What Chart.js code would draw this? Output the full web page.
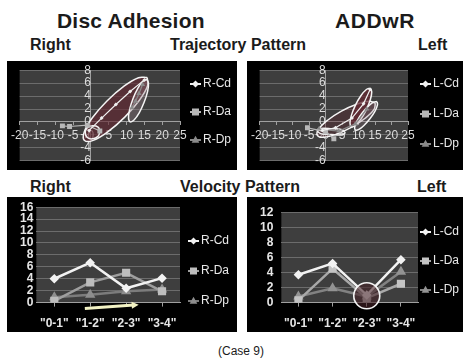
<!DOCTYPE html>
<html>
<head>
<meta charset="utf-8">
<title>Disc Adhesion ADDwR (Case 9)</title>
<script src="https://cdn.jsdelivr.net/npm/chart.js@4.4.1/dist/chart.umd.min.js"></script>
<style>
  body { margin: 0; background: #fff; }
  #page { position: relative; width: 463px; height: 361px; overflow: hidden; font-family: "Liberation Sans", Arial, sans-serif; }
  .lbl { position: absolute; white-space: nowrap; line-height: 1; font-weight: bold; color: #1b1b1b; }
  .panel { position: absolute; background: #000; }
  .panel canvas { display: block; }
</style>
</head>
<body>
<div id="page">
  <div class="lbl" style="left:57px;top:10px;font-size:21px;letter-spacing:0.2px">Disc Adhesion</div>
  <div class="lbl" style="left:335px;top:10px;font-size:21px;letter-spacing:0.6px">ADDwR</div>
  <div class="lbl" style="left:30px;top:37px;font-size:16px">Right</div>
  <div class="lbl" style="left:170px;top:37px;font-size:16px">Trajectory Pattern</div>
  <div class="lbl" style="left:418px;top:37px;font-size:16px">Left</div>
  <div class="panel" style="left:7px;top:61px;width:230px;height:109px"><canvas id="trajR" width="230" height="109"></canvas></div>
  <div class="panel" style="left:247px;top:61px;width:216px;height:109px"><canvas id="trajL" width="216" height="109"></canvas></div>
  <div class="lbl" style="left:30px;top:179px;font-size:16px">Right</div>
  <div class="lbl" style="left:180px;top:179px;font-size:16px">Velocity Pattern</div>
  <div class="lbl" style="left:417px;top:179px;font-size:16px">Left</div>
  <div class="panel" style="left:7px;top:197px;width:230px;height:135px"><canvas id="velR" width="230" height="135"></canvas></div>
  <div class="panel" style="left:247px;top:197px;width:216px;height:135px"><canvas id="velL" width="216" height="135"></canvas></div>
  <div class="lbl" style="left:218px;top:345px;font-size:12px;font-weight:normal">(Case 9)</div>
</div>
<script>
// trajectory pattern, right side (x, y pairs)
const trajRCdX = [-0.5, 3, 7, 11, 15];
const trajRCdY = [-1.3, 0.6, 2.7, 4.7, 6.5];
const trajRDaX = [-8, -6, -1, 2.5];
const trajRDaY = [-0.6, -0.7, -0.5, -1.4];
const trajRDpX = [11.5, 12.5, 13.5, 14.5];
const trajRDpY = [2.2, 3.2, 4.4, 5.8];
// outlined loops drawn round the right trajectories
const loopR1X = [15.8, 15.9, 13.6, 9.5, 4.8, 0.65, -1.8, -1.9, 0.4, 4.5, 9.2, 13.35, 15.8];
const loopR1Y = [6.86, 5.58, 3.35, 0.75, -1.5, -2.84, -2.86, -1.58, 0.65, 3.25, 5.5, 6.84, 6.86];
const loopR2X = [15.7, 16.15, 15.9, 14.9, 13.55, 12.1, 11, 10.55, 10.85, 11.8, 13.15, 14.6, 15.7];
const loopR2Y = [6.6, 6.0, 4.7, 3.0, 1.4, 0.3, 0.02, 0.6, 1.9, 3.6, 5.2, 6.3, 6.6];
const loopR3X = [2.6, 2, 0.5, -1, -1.6, -1, 0.5, 2, 2.6];
const loopR3Y = [-1.4, -0.8, -0.6, -0.9, -1.6, -2.4, -2.6, -2.2, -1.4];

// trajectory pattern, left side
const trajLCdX = [-1, 3, 8, 11.5, 13.5];
const trajLCdY = [-1.3, -0.9, 0.6, 2.8, 5];
const trajLDaX = [-5.5, 0, 2.5];
const trajLDaY = [-0.9, -1.5, -2.6];
const trajLDpX = [-2, 4, 9, 12.5];
const trajLDpY = [-1.1, -1.4, -0.3, 2];
const loopL1X = [15.1, 14.7, 12.0, 7.8, 3.2, -0.6, -2.5, -2.1, 0.6, 4.8, 9.4, 13.2, 15.1];
const loopL1Y = [2.9, 1.94, 0.57, -0.84, -1.9, -2.36, -2.06, -1.1, 0.27, 1.68, 2.75, 3.2, 2.9];
const loopL2X = [13.6, 14.0, 13.56, 12.34, 10.7, 9.0, 7.83, 7.4, 7.85, 9.06, 10.7, 12.37, 13.6];
const loopL2Y = [5.23, 4.65, 3.42, 1.87, 0.42, -0.54, -0.75, -0.17, 1.06, 2.61, 4.06, 5.02, 5.23];
const loopL3X = [15.6, 15.74, 15.0, 13.5, 11.7, 10.1, 9.0, 8.86, 9.6, 11.1, 12.9, 14.5, 15.6];
const loopL3Y = [3.15, 2.64, 1.68, 0.53, -0.5, -1.15, -1.23, -0.72, 0.23, 1.39, 2.42, 3.08, 3.15];
const loopL4X = [6, 5, 1.8, -1.4, -2.5, -1.5, 1.8, 5, 6];
const loopL4Y = [-1.7, -1.2, -1.05, -1.0, -1.25, -1.8, -1.95, -2.0, -1.7];

// velocity pattern
const velCats = ['"0-1"', '"1-2"', '"2-3"', '"3-4"'];
const velRCd = [4, 6.7, 2.4, 4.1];
const velRDa = [0.3, 3.4, 5, 1.9];
const velRDp = [0.9, 1.3, 1.9, 2.2];
const velLCd = [3.7, 5.2, 1, 5.7];
const velLDa = [0.3, 4.5, 0.6, 2.5];
const velLDp = [0.8, 1.9, 0.8, 4.1];

Chart.defaults.font.family = '"Liberation Sans", Arial, sans-serif';

function pts(xs, ys) {
  return xs.map((x, i) => ({x: x, y: ys[i]}));
}

function drawMarker(ctx, style, x, y, r, fill) {
  ctx.fillStyle = fill;
  ctx.beginPath();
  if (style === 'rect') {
    ctx.rect(x - r, y - r, 2 * r, 2 * r);
  } else if (style === 'triangle') {
    ctx.moveTo(x, y - r * 1.2);
    ctx.lineTo(x + r * 1.1, y + r * 0.8);
    ctx.lineTo(x - r * 1.1, y + r * 0.8);
    ctx.closePath();
  } else {
    ctx.moveTo(x, y - r);
    ctx.lineTo(x + r, y);
    ctx.lineTo(x, y + r);
    ctx.lineTo(x - r, y);
    ctx.closePath();
  }
  ctx.fill();
}

// grey plot area like the excel charts
const plotBg = {
  id: 'plotBg',
  beforeDraw(chart, args, opts) {
    const a = chart.chartArea;
    chart.ctx.save();
    chart.ctx.fillStyle = opts.color || '#3e3e3e';
    chart.ctx.fillRect(a.left, a.top, a.width, a.height);
    chart.ctx.restore();
  }
};

// legend on the right: short line with the marker on it
const sideLegend = {
  id: 'sideLegend',
  afterDraw(chart, args, opts) {
    const ctx = chart.ctx;
    ctx.save();
    ctx.font = '12px "Liberation Sans", Arial, sans-serif';
    ctx.textBaseline = 'middle';
    let k = 0;
    chart.data.datasets.forEach(ds => {
      if (ds.noLegend) return;
      const x = opts.x;
      const y = opts.y0 + opts.dy * k++;
      ctx.strokeStyle = ds.borderColor;
      ctx.lineWidth = 2;
      ctx.beginPath();
      ctx.moveTo(x, y);
      ctx.lineTo(x + 11, y);
      ctx.stroke();
      drawMarker(ctx, ds.pointStyle, x + 5.5, y, 3.5, ds.pointBackgroundColor || ds.backgroundColor);
      ctx.fillStyle = '#e8e8e8';
      ctx.fillText(ds.label, x + 13, y);
    });
    ctx.restore();
  }
};

// hand drawn marks: circle and arrow, placed in data units
const marks = {
  id: 'marks',
  afterDatasetsDraw(chart, args, o) {
    if (!o.circle) return;
    const ctx = chart.ctx;
    const px = chart.scales.x.getPixelForValue(o.circle.cx);
    const py = chart.scales.y.getPixelForValue(o.circle.cy);
    ctx.save();
    ctx.beginPath();
    ctx.arc(px, py, o.circle.r, 0, Math.PI * 2);
    ctx.fillStyle = 'rgba(70,35,40,0.6)';
    ctx.fill();
    ctx.strokeStyle = '#f4f4f4';
    ctx.lineWidth = 1.6;
    ctx.stroke();
    ctx.restore();
  },
  afterDraw(chart, args, o) {
    if (!o.arrow) return;
    const ctx = chart.ctx;
    const sx = chart.scales.x, sy = chart.scales.y;
    const x1 = sx.getPixelForValue(o.arrow.x1), y1 = sy.getPixelForValue(o.arrow.y1);
    const x2 = sx.getPixelForValue(o.arrow.x2), y2 = sy.getPixelForValue(o.arrow.y2);
    const ang = Math.atan2(y2 - y1, x2 - x1);
    ctx.save();
    ctx.strokeStyle = '#f2f2c4';
    ctx.fillStyle = '#f2f2c4';
    ctx.lineWidth = 3;
    ctx.beginPath();
    ctx.moveTo(x1, y1);
    ctx.lineTo(x2 - 5 * Math.cos(ang), y2 - 5 * Math.sin(ang));
    ctx.stroke();
    ctx.beginPath();
    ctx.moveTo(x2, y2);
    ctx.lineTo(x2 - 7 * Math.cos(ang) + 3.5 * Math.sin(ang), y2 - 7 * Math.sin(ang) - 3.5 * Math.cos(ang));
    ctx.lineTo(x2 - 7 * Math.cos(ang) - 3.5 * Math.sin(ang), y2 - 7 * Math.sin(ang) + 3.5 * Math.cos(ang));
    ctx.closePath();
    ctx.fill();
    ctx.restore();
  }
};

function trajSeries(label, xs, ys, color, style, r) {
  return {
    label: label, data: pts(xs, ys), showLine: true,
    borderColor: color, backgroundColor: color, borderWidth: 1.2,
    pointStyle: style, pointRadius: r, pointBorderWidth: 0
  };
}

function loop(xs, ys, fillColor) {
  return {
    data: pts(xs, ys), showLine: true, tension: 0.4,
    borderColor: '#f4f4f4', borderWidth: 1.5,
    backgroundColor: fillColor, fill: fillColor ? 'shape' : false,
    pointRadius: 0, noLegend: true
  };
}

function trajOptions(pad, legend) {
  return {
    responsive: false,
    animation: false,
    layout: { padding: pad },
    plugins: {
      legend: { display: false },
      tooltip: { enabled: false },
      plotBg: { color: '#3e3e3e' },
      sideLegend: legend
    },
    scales: {
      x: {
        type: 'linear', min: -20, max: 25, position: { y: 0 },
        ticks: { stepSize: 5, autoSkip: false, maxRotation: 0, color: '#dcdcdc', font: { size: 12 }, padding: 4 },
        grid: { drawOnChartArea: false, color: '#a0a0a0', tickLength: 3 },
        border: { color: '#a0a0a0' }
      },
      y: {
        type: 'linear', min: -6, max: 8, position: { x: 0 },
        ticks: { stepSize: 2, autoSkip: false, color: '#dcdcdc', font: { size: 12 }, padding: 2 },
        grid: { color: '#6c6c6c', drawTicks: false },
        border: { color: '#a0a0a0' }
      }
    }
  };
}

new Chart('trajR', {
  type: 'scatter',
  data: {
    datasets: [
      trajSeries('R-Cd', trajRCdX, trajRCdY, '#f0f0f0', 'rectRot', 2),
      trajSeries('R-Da', trajRDaX, trajRDaY, '#b8b8b8', 'rect', 3.5),
      trajSeries('R-Dp', trajRDpX, trajRDpY, '#8a8a8a', 'triangle', 3),
      loop(loopR3X, loopR3Y, null),
      loop(loopR2X, loopR2Y, 'rgba(150,125,135,0.35)'),
      loop(loopR1X, loopR1Y, 'rgba(100,40,50,0.65)')
    ]
  },
  options: trajOptions({ left: 12, top: 6, right: 57, bottom: 7 }, { x: 183, y0: 23, dy: 28 }),
  plugins: [plotBg, sideLegend]
});

new Chart('trajL', {
  type: 'scatter',
  data: {
    datasets: [
      trajSeries('L-Cd', trajLCdX, trajLCdY, '#f0f0f0', 'rectRot', 2),
      trajSeries('L-Da', trajLDaX, trajLDaY, '#b8b8b8', 'rect', 3.5),
      trajSeries('L-Dp', trajLDpX, trajLDpY, '#8a8a8a', 'triangle', 3),
      loop(loopL4X, loopL4Y, null),
      loop(loopL3X, loopL3Y, 'rgba(150,125,135,0.25)'),
      loop(loopL2X, loopL2Y, 'rgba(100,40,50,0.75)'),
      loop(loopL1X, loopL1Y, 'rgba(90,40,48,0.4)')
    ]
  },
  options: trajOptions({ left: 12, top: 6, right: 55, bottom: 7 }, { x: 173, y0: 23, dy: 30 }),
  plugins: [plotBg, sideLegend]
});

function velSeries(label, values, line, point, style, r) {
  return {
    label: label, data: values,
    borderColor: line, backgroundColor: point,
    pointBackgroundColor: point, pointBorderColor: point,
    borderWidth: 2.5, pointStyle: style, pointRadius: r, tension: 0
  };
}

function velOptions(max, pad, tickPad, legend, mark) {
  return {
    responsive: false,
    animation: false,
    layout: { padding: pad },
    plugins: {
      legend: { display: false },
      tooltip: { enabled: false },
      plotBg: { color: '#3e3e3e' },
      sideLegend: legend,
      marks: mark
    },
    scales: {
      x: {
        type: 'category', offset: true,
        ticks: { color: '#e6e6e6', font: { size: 12, weight: 'bold' }, padding: 10, maxRotation: 0, autoSkip: false },
        grid: { drawOnChartArea: false, color: '#a0a0a0', tickLength: 4 },
        border: { color: '#a0a0a0' }
      },
      y: {
        min: 0, max: max,
        ticks: { stepSize: 2, autoSkip: false, color: '#e6e6e6', font: { size: 12, weight: 'bold' }, padding: tickPad },
        grid: { color: '#6c6c6c', drawTicks: false },
        border: { display: false }
      }
    }
  };
}

new Chart('velR', {
  type: 'line',
  data: {
    labels: velCats,
    datasets: [
      velSeries('R-Cd', velRCd, '#f2f2f2', '#f2f2f2', 'rectRot', 3),
      velSeries('R-Da', velRDa, '#9e9e9e', '#bdbdbd', 'rect', 4),
      velSeries('R-Dp', velRDp, '#7c7c7c', '#8e8e8e', 'triangle', 3.5)
    ]
  },
  options: velOptions(16, { left: 10, top: 8, right: 57, bottom: -9 }, 3,
    { x: 181, y0: 44, dy: 30 },
    { arrow: { x1: 0.85, y1: -1, x2: 2.35, y2: -0.35 } }),
  plugins: [plotBg, sideLegend, marks]
});

new Chart('velL', {
  type: 'line',
  data: {
    labels: velCats,
    datasets: [
      velSeries('L-Cd', velLCd, '#f2f2f2', '#f2f2f2', 'rectRot', 3),
      velSeries('L-Da', velLDa, '#a8a8a8', '#c4c4c4', 'rect', 4),
      velSeries('L-Dp', velLDp, '#828282', '#939393', 'triangle', 3.5)
    ]
  },
  options: velOptions(12, { left: 5, top: 8, right: 45, bottom: -9 }, 8,
    { x: 173, y0: 35, dy: 29 },
    { circle: { cx: 2, cy: 0.9, r: 13 } }),
  plugins: [plotBg, sideLegend, marks]
});
</script>
</body>
</html>
